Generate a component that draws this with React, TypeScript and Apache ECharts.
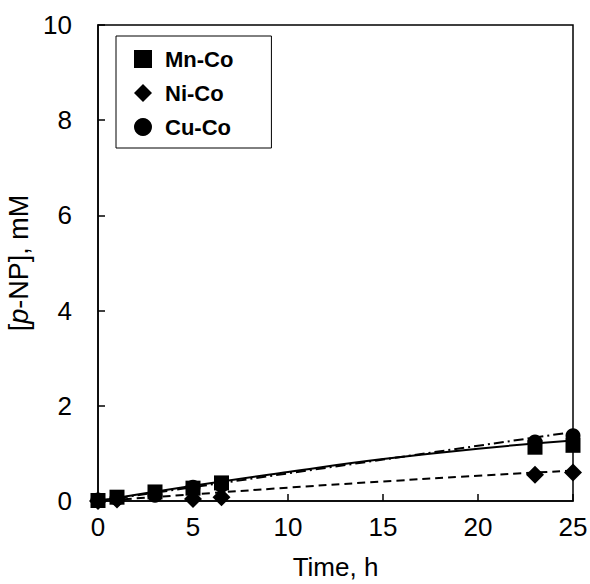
import React, { useEffect, useRef } from "react";
import * as echarts from "echarts";

// Sampling times (h) and measured p-NP concentrations (mM)
const times = [0, 1, 3, 5, 6.5, 23, 25];
const mnCo = [0.01, 0.08, 0.19, 0.27, 0.38, 1.13, 1.17];
const niCo = [0.0, 0.03, -0.05, 0.04, 0.08, 0.55, 0.6];
const cuCo = [0.02, 0.06, 0.12, 0.29, 0.33, 1.24, 1.37];

// Trend lines drawn through each data set
const fitTimes = [0, 5, 10, 15, 20, 25];
const mnCoFit = [0, 0.32, 0.61, 0.88, 1.1, 1.27];
const niCoFit = [0, 0.14, 0.28, 0.41, 0.53, 0.64];
const cuCoFit = [0, 0.29, 0.58, 0.87, 1.16, 1.45];

const xTicks = [0, 5, 10, 15, 20, 25];
const yTicks = [0, 2, 4, 6, 8, 10];

const FONT = "'Liberation Sans', Arial, sans-serif";

const pair = (xs: number[], ys: number[]) => xs.map((x, i) => [x, ys[i]]);

export default function App() {
  const ref = useRef<HTMLDivElement>(null);

  useEffect(() => {
    if (!ref.current) return;
    const chart = echarts.init(ref.current, null, { renderer: "svg" });

    const markerSeries = (name: string, ys: number[], symbol: string, size: number) => ({
      name,
      type: "scatter",
      data: pair(times, ys),
      symbol,
      symbolSize: size,
      itemStyle: { color: "#000", opacity: 1 },
      z: 5,
    });

    const fitSeries = (ys: number[], type: any, smooth: boolean) => ({
      type: "line",
      data: pair(fitTimes, ys),
      smooth,
      showSymbol: false,
      symbol: "none",
      silent: true,
      lineStyle: { color: "#000", width: 2, type },
      z: 3,
    });

    chart.setOption({
      animation: false,
      backgroundColor: "#fff",
      grid: {
        left: 98,
        top: 25,
        right: 17,
        bottom: 83,
        outerBoundsMode: "none",
        containLabel: false,
        show: true,
        borderColor: "#000",
        borderWidth: 1.5,
        backgroundColor: "transparent",
      },
      legend: {
        orient: "vertical",
        left: 116,
        top: 36,
        padding: [12, 38, 10, 18],
        itemGap: 12,
        itemWidth: 18,
        itemHeight: 18,
        selectedMode: false,
        borderColor: "#000",
        borderWidth: 1,
        itemStyle: { opacity: 1 },
        textStyle: {
          fontFamily: FONT,
          fontSize: 22,
          fontWeight: "bold",
          color: "#000",
          padding: [0, 0, 0, 8],
        },
        data: ["Mn-Co", "Ni-Co", "Cu-Co"],
      },
      xAxis: {
        type: "value",
        min: xTicks[0],
        max: xTicks[xTicks.length - 1],
        interval: 5,
        name: "Time, h",
        nameLocation: "middle",
        nameGap: 53,
        nameTextStyle: { fontFamily: FONT, fontSize: 26, color: "#000" },
        axisLine: { show: true, lineStyle: { color: "#000", width: 1.5 } },
        axisTick: { show: true, inside: true, length: 7, lineStyle: { color: "#000", width: 1.5 } },
        axisLabel: { fontFamily: FONT, fontSize: 26, color: "#000", margin: 13 },
        splitLine: { show: false },
      },
      yAxis: {
        type: "value",
        min: yTicks[0],
        max: yTicks[yTicks.length - 1],
        interval: 2,
        name: "[{i|p}-NP], mM",
        nameLocation: "middle",
        nameGap: 60,
        nameTextStyle: {
          fontFamily: FONT,
          fontSize: 27,
          color: "#000",
          rich: { i: { fontFamily: FONT, fontSize: 27, fontStyle: "italic", color: "#000" } },
        },
        axisLine: { show: true, lineStyle: { color: "#000", width: 1.5 } },
        axisTick: { show: true, inside: true, length: 7, lineStyle: { color: "#000", width: 1.5 } },
        axisLabel: { fontFamily: FONT, fontSize: 26, color: "#000", margin: 26 },
        splitLine: { show: false },
      },
      series: [
        fitSeries(mnCoFit, "solid", true),
        fitSeries(niCoFit, [8, 5], true),
        fitSeries(cuCoFit, [10, 4, 2, 4], false),
        markerSeries("Cu-Co", cuCo, "circle", 15),
        markerSeries("Mn-Co", mnCo, "rect", 15),
        markerSeries("Ni-Co", niCo, "diamond", 18),
      ],
    });

    return () => chart.dispose();
  }, []);

  return (
    <div
      ref={ref}
      style={{ position: "absolute", left: 0, top: 0, width: 590, height: 584 }}
    />
  );
}
